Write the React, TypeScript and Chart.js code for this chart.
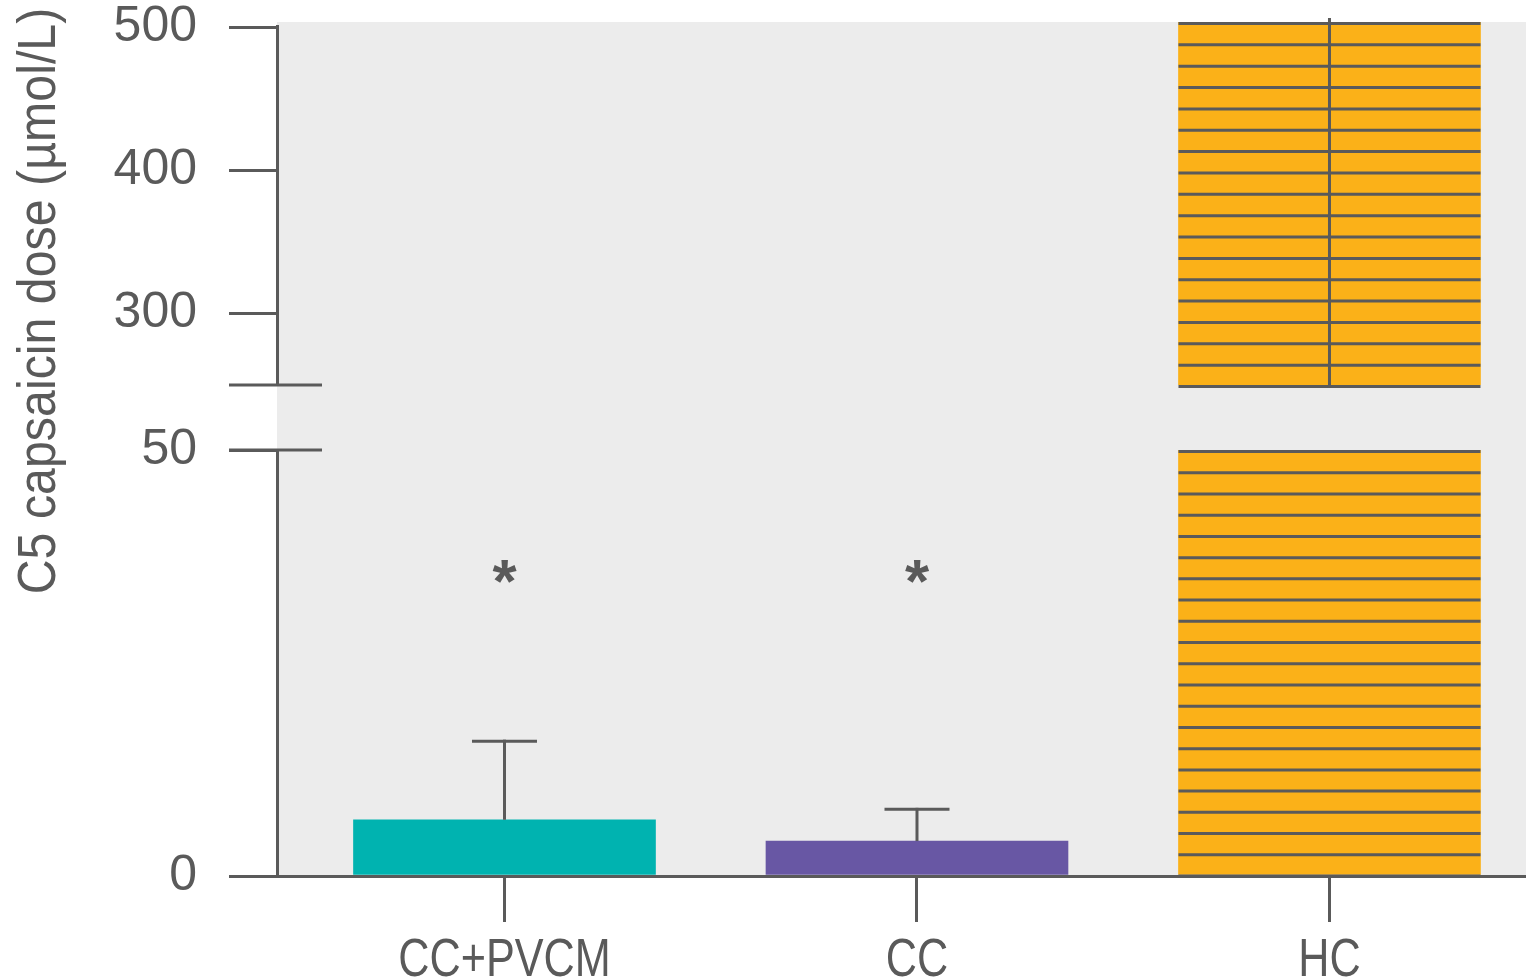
import React, { useEffect, useRef } from "react";
import { Chart, registerables } from "chart.js";

Chart.register(...registerables);

// ---------- data ----------
const categories = ["CC+PVCM", "CC", "HC"];
const meanValues = [6.6, 4.1, 560];
const sdValues = [9.4, 3.9, 60];
const sigMarks = ["*", "*", ""];
const sigValues = [35.7, 35.7, 0];
const barColors = ["#00B3B0", "#6857A4", "#FBB118"];
const hatched = [false, false, true];
const lowerTicks = [0, 50];
const upperTicks = [300, 400, 500];
const lowerRange = [0, 50];
const upperRange = [250, 503.5];
const xRange = [-0.5515, 2.4764];
const yTitle = "C5 capsaicin dose (µmol/L)";

const GRAY = "#5a5a5a";
const BG = "#ECECEC";
const FONT = "'Liberation Sans', Arial, sans-serif";
const LABEL_SIZE = 54;
const LABEL_SQUEEZE = 0.8;
const TITLE_SQUEEZE = 0.895;

const decorPlugin = {
  id: "decor",
  beforeDraw(chart: any) {
    const { ctx, chartArea: a } = chart;
    ctx.save();
    ctx.fillStyle = BG;
    ctx.fillRect(a.left, a.top, a.right - a.left, a.bottom - a.top);
    ctx.restore();
  },
  afterDatasetsDraw(chart: any) {
    const { ctx, chartArea: a, scales } = chart;
    const yLow = scales.yLow;
    const yHigh = scales.yHigh;
    const xs = scales.x;
    ctx.save();
    ctx.strokeStyle = GRAY;
    ctx.lineWidth = 3;
    ctx.lineCap = "butt";
    const line = (x1: number, y1: number, x2: number, y2: number) => {
      ctx.beginPath();
      ctx.moveTo(x1, y1);
      ctx.lineTo(x2, y2);
      ctx.stroke();
    };
    // hatch lines on hatched bars
    chart.data.datasets.forEach((ds: any, di: number) => {
      const meta = chart.getDatasetMeta(di);
      meta.data.forEach((el: any, j: number) => {
        const idx = ds.data[j].x;
        if (!hatched[idx]) return;
        const p = el.getProps(["x", "y", "base", "width"], true);
        const top = Math.max(Math.min(p.y, p.base), a.top);
        const bottom = Math.max(p.y, p.base);
        const n = Math.max(1, Math.round((bottom - top) / 21.3));
        const step = (bottom - top) / n;
        ctx.save();
        ctx.beginPath();
        ctx.rect(a.left, a.top, a.right - a.left, a.bottom - a.top);
        ctx.clip();
        for (let k = 0; k <= n; k++) {
          const yy = top + 1.5 + k * step;
          line(p.x - p.width / 2, yy, p.x + p.width / 2, yy);
        }
        ctx.restore();
      });
    });
    // error bars
    categories.forEach((_c, i) => {
      const px = xs.getPixelForValue(i);
      const m = meanValues[i];
      const sd = sdValues[i];
      let y0: number;
      let y1: number;
      if (m <= lowerRange[1]) {
        y0 = yLow.getPixelForValue(m);
        y1 = yLow.getPixelForValue(m + sd);
      } else {
        y0 = yHigh.getPixelForValue(upperRange[0]) + 3;
        y1 = Math.max(yHigh.getPixelForValue(m + sd), a.top - 4);
      }
      line(px, y0, px, y1);
      if (y1 > a.top) line(px - 32.5, y1 + 1.5, px + 32.5, y1 + 1.5);
    });
    ctx.restore();
  },
  afterDraw(chart: any) {
    const { ctx, chartArea: a, scales } = chart;
    const yLow = scales.yLow;
    const yHigh = scales.yHigh;
    const xs = scales.x;
    ctx.save();
    ctx.strokeStyle = GRAY;
    ctx.lineWidth = 3;
    const line = (x1: number, y1: number, x2: number, y2: number) => {
      ctx.beginPath();
      ctx.moveTo(x1, y1);
      ctx.lineTo(x2, y2);
      ctx.stroke();
    };
    const ax = a.left + 0.5;
    // broken y axis line
    line(ax, yHigh.getPixelForValue(upperTicks[upperTicks.length - 1]) - 2, ax, yHigh.getPixelForValue(upperRange[0]));
    line(ax, yLow.getPixelForValue(lowerRange[1]), ax, yLow.getPixelForValue(lowerRange[0]));
    // break marks
    const yb1 = yHigh.getPixelForValue(upperRange[0]);
    const yb2 = yLow.getPixelForValue(lowerRange[1]);
    line(a.left - 48, yb1, a.left + 45, yb1);
    line(a.left - 48, yb2, a.left + 45, yb2);
    // significance marks
    ctx.fillStyle = GRAY;
    ctx.font = `bold 62px ${FONT}`;
    ctx.textAlign = "center";
    ctx.textBaseline = "alphabetic";
    categories.forEach((_c, i) => {
      const s = sigMarks[i];
      if (!s) return;
      const m = ctx.measureText(s);
      const cy = yLow.getPixelForValue(sigValues[i]);
      const base = cy + (m.actualBoundingBoxAscent - m.actualBoundingBoxDescent) / 2;
      ctx.fillText(s, xs.getPixelForValue(i), base);
    });
    // category labels (condensed)
    ctx.font = `${LABEL_SIZE}px ${FONT}`;
    ctx.textAlign = "center";
    categories.forEach((c, i) => {
      ctx.save();
      ctx.translate(xs.getPixelForValue(i), a.bottom + 46 + LABEL_SIZE);
      ctx.scale(LABEL_SQUEEZE, 1);
      ctx.fillText(c, 0, 0);
      ctx.restore();
    });
    // y-axis title
    ctx.save();
    ctx.translate(55, 301);
    ctx.rotate(-Math.PI / 2);
    ctx.scale(TITLE_SQUEEZE, 1);
    ctx.font = `${LABEL_SIZE}px ${FONT}`;
    ctx.textAlign = "center";
    ctx.textBaseline = "alphabetic";
    ctx.fillText(yTitle, 0, 0);
    ctx.restore();
    ctx.restore();
  },
};

export default function App() {
  const ref = useRef<HTMLCanvasElement | null>(null);
  useEffect(() => {
    if (!ref.current) return;
    const lowerData = categories.map((_c, i) => ({ x: i, y: Math.min(meanValues[i], lowerRange[1]) }));
    const upperIdx = categories.map((_c, i) => i).filter((i) => meanValues[i] > lowerRange[1]);
    const upperData = upperIdx.map((i) => ({ x: i, y: [upperRange[0], meanValues[i]] }));

    const yCommon = (ticks: number[]) => ({
      type: "linear",
      position: "left",
      stack: "ybreak",
      border: { display: false },
      grid: {
        display: true,
        drawOnChartArea: false,
        drawTicks: true,
        tickLength: 48,
        color: GRAY,
        lineWidth: 3,
      },
      ticks: {
        font: { family: FONT, size: 50 },
        color: GRAY,
        padding: 32,
      },
      afterBuildTicks: (scale: any) => {
        scale.ticks = ticks.map((v) => ({ value: v }));
      },
      afterFit: (scale: any) => {
        scale.width = 277;
        scale.paddingTop = 0;
        scale.paddingBottom = 0;
      },
    });

    const chart = new Chart(ref.current, {
      type: "bar",
      data: {
        datasets: [
          {
            label: "lower",
            data: lowerData as any,
            yAxisID: "yLow",
            backgroundColor: categories.map((_c, i) => barColors[i]),
            barThickness: 302,
            grouped: false,
            borderWidth: 0,
          } as any,
          {
            label: "upper",
            data: upperData as any,
            yAxisID: "yHigh",
            backgroundColor: upperIdx.map((i) => barColors[i]),
            barThickness: 302,
            grouped: false,
            borderWidth: 0,
          } as any,
        ],
      },
      options: {
        animation: false,
        responsive: false,
        maintainAspectRatio: false,
        devicePixelRatio: 1,
        layout: { padding: { top: 22, left: 0, right: 0, bottom: 0 } },
        plugins: { legend: { display: false }, tooltip: { enabled: false } },
        scales: {
          x: {
            type: "linear",
            min: xRange[0],
            max: xRange[1],
            offset: false,
            z: 1,
            border: { display: true, color: GRAY, width: 3 },
            grid: {
              display: true,
              offset: false,
              drawOnChartArea: false,
              drawTicks: true,
              tickLength: 46,
              color: GRAY,
              lineWidth: 3,
            },
            ticks: {
              display: false,
              autoSkip: false,
              maxRotation: 0,
            },
            afterBuildTicks: (scale: any) => {
              scale.ticks = categories.map((_c, i) => ({ value: i }));
            },
            afterFit: (scale: any) => {
              scale.height = 104;
              scale.paddingLeft = 0;
              scale.paddingRight = 0;
            },
          },
          yLow: {
            ...yCommon(lowerTicks),
            min: lowerRange[0],
            max: lowerRange[1],
            stackWeight: 426,
          },
          yGap: {
            type: "linear",
            position: "left",
            stack: "ybreak",
            stackWeight: 65,
            min: 0,
            max: 1,
            border: { display: false },
            grid: { display: false },
            ticks: { display: false },
            afterFit: (scale: any) => {
              scale.width = 277;
              scale.paddingTop = 0;
              scale.paddingBottom = 0;
            },
          },
          yHigh: {
            ...yCommon(upperTicks),
            min: upperRange[0],
            max: upperRange[1],
            stackWeight: 363,
          },
        } as any,
      },
      plugins: [decorPlugin as any],
    });
    return () => chart.destroy();
  }, []);

  return (
    <div style={{ position: "fixed", left: 0, top: 0, width: 1526, height: 980, background: "#fff" }}>
      <canvas ref={ref} width={1526} height={980} style={{ display: "block", width: 1526, height: 980 }} />
    </div>
  );
}
